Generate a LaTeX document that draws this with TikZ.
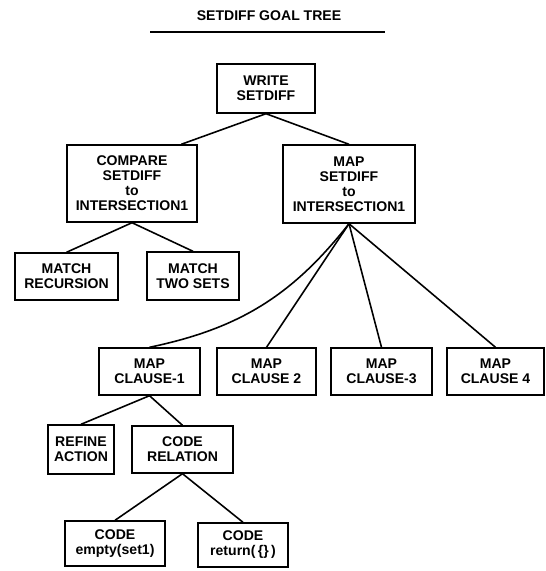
\documentclass[tikz,border=0pt]{standalone}
\usepackage{fontspec}
\setsansfont{Liberation Sans}
\usetikzlibrary{calc}
\tikzset{>=latex}
\tikzset{
  goal/.style={draw, line width=0.8pt, align=center, inner sep=0pt,
    font=\sffamily\bfseries\fontsize{8}{8.5}\selectfont},
  size/.style 2 args={minimum width=#1*0.02cm, minimum height=#2*0.02cm},
  link/.style={line width=0.9pt}
}

\begin{document}
\begin{tikzpicture}[x=0.02cm, y=-0.02cm]
    \useasboundingbox (0,0) rectangle (546,571);
    % title and rule
    \node[font=\sffamily\bfseries\fontsize{8}{8.5}\selectfont] (title) at (269,16) {SETDIFF GOAL TREE};
    \draw[line width=1.3pt] (150,32) -- (385,32);
    % goals
    \node[goal, size={98}{49}] (write) at (266,88.5) {WRITE\\SETDIFF};
    \node[goal, size={130}{77}] (compare) at (132,183.5) {COMPARE\\SETDIFF\\to\\INTERSECTION1};
    \node[goal, size={132}{78}] (mapsd) at (349,184) {MAP\\SETDIFF\\to\\INTERSECTION1};
    \node[goal, size={103}{47}] (mrec) at (66.5,276.5) {MATCH\\RECURSION};
    \node[goal, size={92}{48}] (mtwo) at (193,276) {MATCH\\TWO SETS};
    \node[goal, size={101}{47}] (clause1) at (149.5,371.5) {MAP\\CLAUSE-1};
    \node[goal, size={99}{47}] (clause2) at (266.5,371.5) {MAP\\CLAUSE 2};
    \node[goal, size={101}{47}] (clause3) at (381.5,371.5) {MAP\\CLAUSE-3};
    \node[goal, size={97}{47}] (clause4) at (495.5,371.5) {MAP\\CLAUSE 4};
    \node[goal, size={66}{49}] (refine) at (81,449.5) {REFINE\\ACTION};
    \node[goal, size={101}{47}] (coderel) at (182.5,449.5) {CODE\\RELATION};
    \node[goal, size={100}{45}] (cempty) at (115,543.5) {CODE\\empty(set1)};
    \node[goal, size={90}{44}] (cret) at (243,545) {CODE\\return(\,\{\}\,)};
    % links
    \draw[link] (write.south) -- ($(compare.north)!0.75!(compare.north east)$);
    \draw[link] (write.south) -- (mapsd.north);
    \draw[link] (compare.south) -- (mrec.north);
    \draw[link] (compare.south) -- (mtwo.north);
    \draw[link] (mapsd.south) to[bend left=20] (clause1.north);
    \foreach \c in {clause2, clause3, clause4}
        \draw[link] (mapsd.south) -- (\c.north);
    \draw[link] (clause1.south) -- (refine.north);
    \draw[link] (clause1.south) -- (coderel.north);
    \draw[link] (coderel.south) -- (cempty.north);
    \draw[link] (coderel.south) -- (cret.north);
\end{tikzpicture}
\end{document}
